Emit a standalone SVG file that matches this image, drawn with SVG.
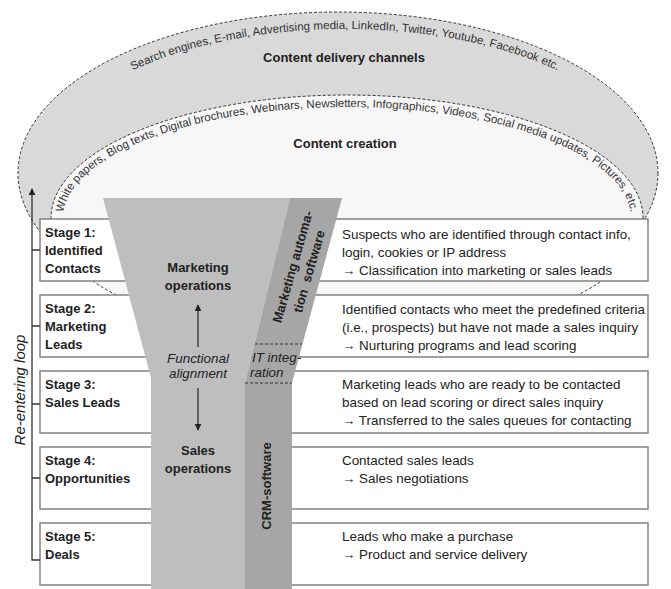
<svg xmlns="http://www.w3.org/2000/svg" xmlns:xlink="http://www.w3.org/1999/xlink" width="671" height="589" viewBox="0 0 671 589">
<style>
text{font-family:"Liberation Sans",Arial,sans-serif;fill:#222}
.b{font-weight:bold;font-size:13px}
.r{font-size:13.4px}
.i{font-style:italic;font-size:13.4px}
.arc{font-size:12px;fill:#333}
.box{fill:#fff;stroke:#7a7a7a;stroke-width:1.4}
.dash{fill:none;stroke:#333;stroke-width:1;stroke-dasharray:3 2}
.ln{fill:none;stroke:#333;stroke-width:1.3}
</style>
<defs>
<path id="pOuter" d="M42,173 A303,144 0 0 1 648,173"/>
<path id="pInner" d="M63,218 A284,111 0 0 1 631,218"/>
<marker id="ah" viewBox="0 0 10 10" refX="9" refY="5" markerWidth="7" markerHeight="7" orient="auto-start-reverse" markerUnits="userSpaceOnUse"><path d="M0,0 L10,5 L0,10 z" fill="#222"/></marker>
</defs>
<rect width="671" height="589" fill="#fff"/>
<g id="content-delivery">
<ellipse cx="338" cy="173" rx="320" ry="161" fill="#d9d9d9" stroke="#333" stroke-width="1" stroke-dasharray="3 2"/>
<text class="arc" style="font-size:11.6px"><textPath xlink:href="#pOuter" startOffset="50%" text-anchor="middle">Search engines, E-mail, Advertising media, LinkedIn, Twitter, Youtube, Facebook etc.</textPath></text>
<text class="b" x="344" y="62" text-anchor="middle">Content delivery channels</text>
</g>
<g id="content-creation">
<ellipse cx="347" cy="218" rx="296" ry="123" fill="#f7f7f7" stroke="#333" stroke-width="1" stroke-dasharray="3 2"/>
<text class="arc" style="font-size:11.5px"><textPath xlink:href="#pInner" startOffset="50%" text-anchor="middle">White papers, Blog texts, Digital brochures, Webinars, Newsletters, Infographics, Videos, Social media updates, Pictures, etc.</textPath></text>
<text class="b" x="345" y="148" text-anchor="middle">Content creation</text>
</g>
<g id="stage1"><rect class="box" x="40" y="219" width="608" height="62"/>
<text class="b" x="45" y="237">Stage 1:</text><text class="b" x="45" y="255">Identified</text><text class="b" x="45" y="273">Contacts</text>
<text class="r" x="342" y="239">Suspects who are identified through contact info,</text><text class="r" x="342" y="257">login, cookies or IP address</text><text class="r" x="342" y="275">→ Classification into marketing or sales leads</text></g>
<g id="stage2"><rect class="box" x="40" y="295" width="608" height="62"/>
<text class="b" x="45" y="313">Stage 2:</text><text class="b" x="45" y="331">Marketing</text><text class="b" x="45" y="349">Leads</text>
<text class="r" x="342" y="314">Identified contacts who meet the predefined criteria</text><text class="r" x="342" y="332">(i.e., prospects) but have not made a sales inquiry</text><text class="r" x="342" y="350">→ Nurturing programs and lead scoring</text></g>
<g id="stage3"><rect class="box" x="40" y="371" width="608" height="62"/>
<text class="b" x="45" y="389">Stage 3:</text><text class="b" x="45" y="407">Sales Leads</text>
<text class="r" x="342" y="389">Marketing leads who are ready to be contacted</text><text class="r" x="342" y="407">based on lead scoring or direct sales inquiry</text><text class="r" x="342" y="425">→ Transferred to the sales queues for contacting</text></g>
<g id="stage4"><rect class="box" x="40" y="447" width="608" height="62"/>
<text class="b" x="45" y="465">Stage 4:</text><text class="b" x="45" y="483">Opportunities</text>
<text class="r" x="342" y="465">Contacted sales leads</text><text class="r" x="342" y="483">→ Sales negotiations</text></g>
<g id="stage5"><rect class="box" x="40" y="523" width="608" height="62"/>
<text class="b" x="45" y="541">Stage 5:</text><text class="b" x="45" y="559">Deals</text>
<text class="r" x="342" y="541">Leads who make a purchase</text><text class="r" x="342" y="559">→ Product and service delivery</text></g>
<g id="funnel">
<polygon points="103,198 290,198 245,383 245,589 151,589 151,378" fill="#bebebe"/>
<text class="b" x="198" y="272" text-anchor="middle">Marketing</text>
<text class="b" x="198" y="290" text-anchor="middle">operations</text>
<text class="i" x="198" y="363" text-anchor="middle">Functional</text>
<text class="i" x="198" y="378" text-anchor="middle">alignment</text>
<text class="b" x="198" y="455" text-anchor="middle">Sales</text>
<text class="b" x="198" y="473" text-anchor="middle">operations</text>
</g>
<g id="software">
<polygon points="290,198 342,198 292,383 292,589 245,589 245,383" fill="#a6a6a6"/>
<g transform="translate(297,268) rotate(-74)">
<text class="b" x="0" y="0" text-anchor="middle">Marketing automa-</text>
<text class="b" x="0" y="17" text-anchor="middle" word-spacing="4">tion software</text>
</g>
<line class="dash" x1="255" y1="344" x2="302" y2="344"/>
<line class="dash" x1="245" y1="383" x2="292" y2="383"/>
<text class="i" x="252" y="362">IT integ-</text>
<text class="i" x="250" y="377">ration</text>
<text class="b" transform="translate(271,486) rotate(-90)" text-anchor="middle">CRM-software</text>
</g>
<g id="connectors">
<line class="ln" x1="198" y1="347" x2="198" y2="305" marker-end="url(#ah)"/>
<line class="ln" x1="198" y1="388" x2="198" y2="430" marker-end="url(#ah)"/>
<path class="ln" d="M40,560 H32 V189" marker-end="url(#ah)"/>
<path class="ln" d="M32,250 H40 M32,326 H40 M32,404 H40 M32,478 H40"/>
</g>
<text class="i" style="font-size:15px" transform="translate(25,390) rotate(-90)" text-anchor="middle">Re-entering loop</text>
</svg>
